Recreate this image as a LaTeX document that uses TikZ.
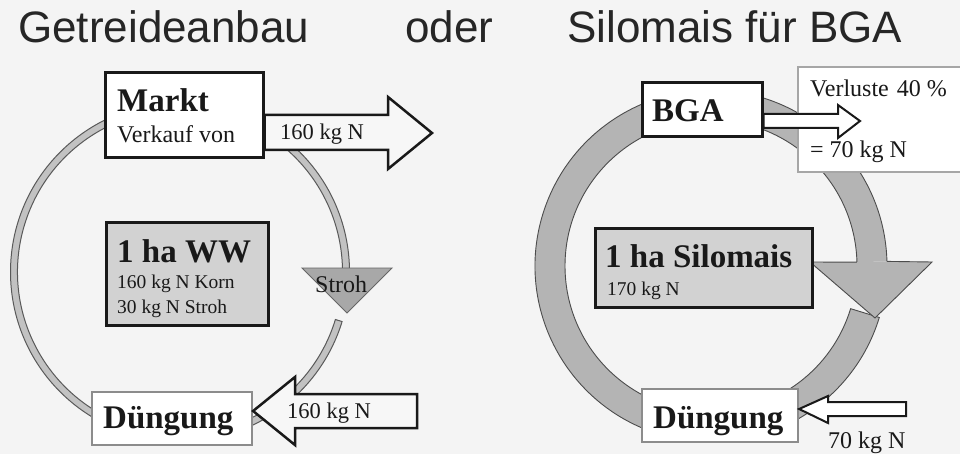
\documentclass[tikz,border=0pt]{standalone}
\usepackage{fontspec}
\setmainfont{Liberation Serif}
\newfontfamily\titlefont{Liberation Sans}
\usetikzlibrary{calc}
\definecolor{bgcol}{HTML}{F4F4F4}
\definecolor{boxgray}{HTML}{D2D2D2}
\definecolor{ringlight}{HTML}{C2C2C2}
\definecolor{ringdark}{HTML}{B4B4B4}
\definecolor{trigray}{HTML}{A8A8A8}
\definecolor{arrowfill}{HTML}{F7F7F7}
\begin{document}
\begin{tikzpicture}[x=1pt,y=-1pt,
  box/.style={draw=black!90, line width=3pt, fill=white, inner sep=0pt},
  graybox/.style={draw=black!90, line width=3pt, fill=boxgray, inner sep=0pt},
  softbox/.style={draw=black!45, line width=2.2pt, fill=white, inner sep=0pt},
  lbl/.style={anchor=base west, inner sep=0pt, text=black!90},
  head/.style={lbl, font=\fontsize{33}{36}\selectfont\bfseries},
  norm/.style={lbl, font=\fontsize{24}{26}\selectfont},
  small/.style={lbl, font=\fontsize{19.5}{22}\selectfont},
  ttl/.style={lbl, font=\titlefont\fontsize{44}{48}\selectfont, text=black!85},
  ringthin/.style={fill=ringlight, draw=black!65, line width=1pt},
  ringthick/.style={fill=ringdark, draw=black!70, line width=0.9pt},
  blockarrow/.style={fill=arrowfill, draw=black!90, line width=2.5pt, line join=miter},
  thinarrow/.style={fill=white, draw=black!90, line width=2pt, line join=miter}
]
\fill[bgcol] (0,0) rectangle (960,454);
\useasboundingbox (0,0) rectangle (960,454);

% titles
\node[ttl] (t1) at (18,43) {Getreideanbau};
\node[ttl] (t2) at (405,43) {oder};
\node[ttl] (t3) at (567,43) {Silomais für BGA};

% ---------------- left cycle ----------------
\coordinate (LC) at (180,272);
\draw[ringthin] ($(LC)+(17:162.5)$) arc[start angle=17, end angle=360, radius=162.5]
  -- ($(LC)+(0:169.5)$) arc[start angle=360, end angle=17, radius=169.5] -- cycle;

\node[box, minimum width=158pt, minimum height=85pt] (markt) at (184,115.5) {};
\node[head] (marktT) at (117,112) {Markt};
\node[norm] (verkauf) at (117,143) {Verkauf von};

\draw[blockarrow] (markt.east |- 0,115) -- (388,115) -- (388,97) -- (432,133) -- (388,169) -- (388,150) -- (markt.east |- 0,150) -- cycle;
\node[norm, font=\fontsize{22.5}{25}\selectfont] (n160a) at (280,140) {160 kg N};

\draw[fill=trigray, draw=black!60, line width=0.9pt] (302,268) -- (392,268) -- (347,313) -- cycle;
\node[norm] (stroh) at (315,292) {Stroh};

\node[graybox, minimum width=162pt, minimum height=102pt] (ww) at (187,274) {};
\node[head] (wwT) at (117,262) {1 ha WW};
\node[small] (korn) at (117,288) {160 kg N Korn};
\node[small] (strohN) at (117,313) {30 kg N Stroh};

\node[softbox, minimum width=160pt, minimum height=53pt] (dueL) at (172,418.5) {};
\node[head] (dueLT) at (103,428) {Düngung};

\draw[blockarrow] (417,394) -- (295,394) -- (295,377) -- (dueL.east |- 0,411) -- (295,445) -- (295,428) -- (417,428) -- cycle;
\node[norm, font=\fontsize{22.5}{25}\selectfont] (n160b) at (287,418) {160 kg N};

% ---------------- right cycle ----------------
\coordinate (RC) at (711,266);
\filldraw[ringthick] ($(RC)+(358.5:146)$) arc[start angle=358.5, end angle=17, radius=146]
  -- ($(RC)+(17:176)$) arc[start angle=17, end angle=358.5, radius=176];
\filldraw[ringthick] ($(RC)+(358.5:146)$) -- (810,262) -- (875,318) -- (932,262) -- ($(RC)+(358.5:176)$);

\node[softbox, draw=black!35, line width=2pt, minimum width=167pt, minimum height=105pt] (verl) at (881.5,119.5) {};
\node[norm] (verlT) at (810,97) {Verluste\,\,40 \%};
\node[norm] (verlN) at (810,158) {= 70 kg N};

\node[box, minimum width=120pt, minimum height=54pt] (bga) at (702,110) {};
\node[head] (bgaT) at (652,122) {BGA};
\draw[thinarrow] (bga.east |- 0,114) -- (838,114) -- (838,105) -- (860,121) -- (838,138) -- (838,128) -- (bga.east |- 0,128) -- cycle;

\node[graybox, minimum width=217pt, minimum height=78pt] (silo) at (703.5,268) {};
\node[head] (siloT) at (605,267) {1 ha Silomais};
\node[small] (siloN) at (607,295) {170 kg N};

\node[softbox, minimum width=156pt, minimum height=53pt] (dueR) at (720,415.5) {};
\node[head] (dueRT) at (653,428) {Düngung};

\draw[thinarrow] (906,402) -- (828,402) -- (828,396) -- (dueR.east |- 0,409) -- (828,423) -- (828,416) -- (906,416) -- cycle;
\node[norm] (n70) at (828,448) {70 kg N};
\end{tikzpicture}
\end{document}
